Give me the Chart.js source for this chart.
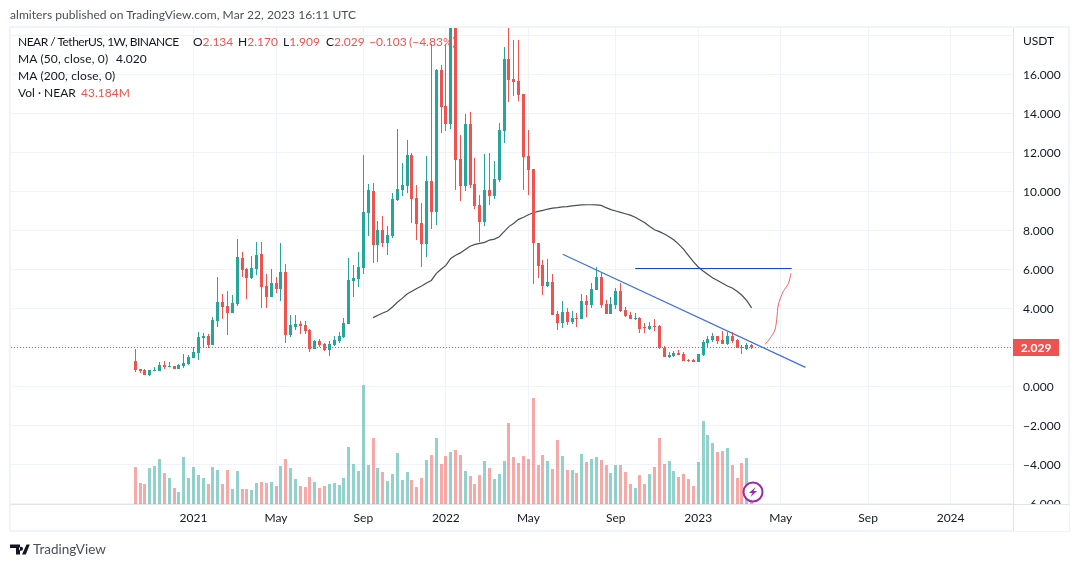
<!DOCTYPE html>
<html>
<head>
<meta charset="utf-8">
<title>NEAR / TetherUS</title>
<script src="https://cdn.jsdelivr.net/npm/chart.js@4/dist/chart.umd.min.js"></script>
<style>
  html, body { margin: 0; padding: 0; background: #fff; width: 1079px; height: 567px; overflow: hidden; }
  body { position: relative; font-family: Lato, sans-serif; font-size: 12px; color: #131722; }
  #frame { position: absolute; left: 9px; top: 26px; width: 1057px; height: 502px; border: 2px solid #f0f3fa; }
  #chart { position: absolute; left: 0; top: 0; }
  .txt { position: absolute; white-space: nowrap; line-height: 16px; }
  .up { color: #ef5350; }
</style>
</head>
<body>
<div id="frame"></div>
<canvas id="chart" width="1079" height="567"></canvas>

<div class="txt" style="left:10px;top:7px;color:#4a4e59;letter-spacing:0.06px">almiters published on TradingView.com, Mar 22, 2023 16:11 UTC</div>

<div class="txt" style="left:18px;top:34px;letter-spacing:-0.5px">NEAR / TetherUS, 1W, BINANCE</div>
<div class="txt" style="left:193px;top:34px">O<span class="up">2.134</span></div>
<div class="txt" style="left:238px;top:34px">H<span class="up">2.170</span></div>
<div class="txt" style="left:283px;top:34px">L<span class="up">1.909</span></div>
<div class="txt up" style="left:326px;top:34px"><span style="color:#131722">C</span>2.029</div>
<div class="txt up" style="left:369px;top:34px">−0.103</div>
<div class="txt up" style="left:409px;top:34px">(−4.83%)</div>
<div class="txt" style="left:18px;top:51px;letter-spacing:0.15px">MA (50, close, 0)</div>
<div class="txt" style="left:116px;top:51px">4.020</div>
<div class="txt" style="left:18px;top:68px;letter-spacing:0.15px">MA (200, close, 0)</div>
<div class="txt" style="left:18px;top:85px">Vol · NEAR</div>
<div class="txt up" style="left:81px;top:85px">43.184M</div>

<div class="txt" style="left:1023px;top:33px">USDT</div>

<!-- alert badge on the last volume bar -->
<svg style="position:absolute;left:742px;top:481px" width="22" height="22" viewBox="0 0 22 22">
  <circle cx="11" cy="11" r="9.5" fill="#fff" stroke="#9c27b0" stroke-width="2"/>
  <path d="M13.5 6 L7 12 H10.5 L8.5 16 L15 10 H11.5 Z" fill="#9c27b0"/>
</svg>

<!-- footer logo -->
<svg style="position:absolute;left:10px;top:544px" width="20" height="11" viewBox="0 0 20 11">
  <path d="M0 .5 H10 V10.5 H6 V4 H0 Z M11 2.8 a2 2 0 1 0 .01 0 Z M16.5 .5 H19.8 L15.8 10.5 H12 Z" fill="#131722"/>
</svg>
<div class="txt" style="left:33px;top:541px;font-size:13.5px;color:#4a4e59">TradingView</div>

<script>
// Weekly candles, first bar is the week of 12 Oct 2020
const opens = [
  1.30, 0.89, 0.84, 0.58, 0.78, 0.78, 1.09, 0.99, 1.04, 0.89,
  1.04, 1.14, 1.45, 1.71, 2.48, 2.58, 2.12, 3.35, 4.32, 4.12,
  3.76, 4.22, 6.58, 6.02, 5.55, 6.02, 6.78, 5.14, 4.58, 5.30,
  4.99, 5.86, 2.63, 3.04, 3.19, 3.14, 2.89, 1.91, 2.32, 2.17,
  1.86, 2.12, 2.32, 2.53, 3.19, 5.40, 5.50, 6.08, 8.90, 10.02,
  7.25, 8.02, 7.35, 7.71, 9.55, 10.07, 10.27, 11.86, 9.66, 8.37,
  7.30, 10.53, 8.94, 16.22, 14.37, 13.45, 19.00, 11.66, 10.27, 13.45,
  10.37, 9.30, 8.43, 10.07, 9.76, 10.58, 13.09, 16.79, 15.76, 15.66,
  14.99, 11.81, 11.14, 7.35, 6.22, 5.14, 5.35, 3.71, 3.25, 3.81,
  3.30, 3.50, 3.45, 4.38, 4.17, 4.94, 5.61, 4.22, 3.71, 4.17,
  4.89, 3.91, 3.66, 3.45, 3.50, 3.04, 2.94, 3.09, 3.09, 1.96,
  1.50, 1.55, 1.71, 1.66, 1.35, 1.35, 1.25, 1.61, 2.22, 2.37,
  2.58, 2.37, 2.17, 2.58, 2.37, 2.01, 1.91, 2.134
];
const highs = [
  1.91, 0.89, 0.89, 0.84, 0.99, 1.25, 1.30, 1.25, 1.04, 1.14,
  1.66, 1.61, 2.02, 2.78, 2.73, 2.68, 3.55, 5.60, 4.73, 4.89,
  4.68, 7.55, 6.89, 6.07, 6.68, 7.40, 7.40, 5.76, 6.02, 5.60,
  7.35, 6.27, 3.66, 3.66, 3.35, 3.35, 2.94, 2.37, 2.43, 2.22,
  2.32, 2.58, 2.78, 3.50, 6.58, 6.22, 6.89, 11.86, 10.37, 10.43,
  8.48, 8.73, 8.22, 9.91, 13.20, 11.45, 12.63, 11.96, 10.32, 9.40,
  11.81, 17.55, 16.27, 16.48, 17.55, 20.00, 20.40, 12.89, 13.96, 14.07,
  11.71, 9.81, 11.91, 11.96, 11.55, 13.50, 17.40, 18.40, 17.76, 17.76,
  14.99, 13.14, 11.14, 7.35, 6.48, 6.53, 5.76, 3.86, 4.38, 4.02,
  3.86, 3.76, 4.73, 4.68, 5.30, 6.12, 5.81, 4.43, 4.58, 5.04,
  5.30, 4.07, 3.81, 3.76, 3.55, 3.25, 3.30, 3.45, 3.14, 2.07,
  1.76, 1.81, 1.86, 1.76, 1.40, 1.40, 1.66, 2.37, 2.58, 2.73,
  2.58, 2.84, 2.78, 2.78, 2.43, 2.12, 2.22, 2.170
];
const lows = [
  0.73, 0.68, 0.58, 0.53, 0.78, 0.78, 0.89, 0.99, 0.89, 0.89,
  0.94, 1.09, 1.45, 1.35, 2.02, 1.96, 2.12, 3.04, 3.45, 2.63,
  3.76, 4.12, 5.60, 4.48, 5.50, 5.71, 4.02, 4.02, 4.58, 4.78,
  4.37, 2.22, 2.53, 2.89, 2.68, 2.68, 1.76, 1.91, 2.02, 1.81,
  1.55, 2.07, 2.22, 2.48, 3.19, 4.58, 5.09, 5.75, 7.71, 6.32,
  6.37, 7.14, 6.73, 7.61, 9.50, 9.76, 9.91, 8.37, 7.50, 6.12,
  6.63, 8.07, 8.27, 12.99, 13.09, 13.20, 10.07, 9.50, 10.02, 10.17,
  9.09, 7.40, 8.22, 9.30, 9.61, 10.48, 12.48, 14.58, 14.89, 14.63,
  10.07, 9.81, 5.25, 5.55, 4.68, 5.09, 3.66, 2.89, 2.99, 3.14,
  3.20, 3.04, 3.45, 3.55, 4.02, 4.94, 4.02, 3.71, 3.71, 3.96,
  3.81, 3.55, 3.45, 3.40, 2.73, 2.73, 2.89, 2.84, 1.91, 1.50,
  1.45, 1.50, 1.61, 1.30, 1.25, 1.25, 1.25, 1.55, 1.96, 2.27,
  2.17, 2.17, 2.12, 2.22, 1.96, 1.66, 1.86, 1.909
];
const closes = [
  0.85, 0.78, 0.58, 0.84, 0.84, 1.09, 0.99, 1.04, 0.89, 1.09,
  1.19, 1.50, 1.76, 2.53, 2.58, 2.12, 3.40, 4.32, 4.07, 3.76,
  4.27, 6.63, 5.96, 5.55, 6.07, 6.73, 5.09, 4.58, 5.30, 4.99,
  5.86, 2.63, 3.14, 3.19, 3.09, 2.84, 1.91, 2.32, 2.12, 1.86,
  2.17, 2.37, 2.58, 3.25, 5.45, 5.55, 6.12, 8.94, 10.07, 7.25,
  8.02, 7.35, 7.76, 9.61, 10.12, 10.32, 11.86, 9.61, 8.32, 7.30,
  10.53, 8.94, 16.22, 14.32, 13.45, 19.00, 11.61, 10.27, 13.45, 10.32,
  9.25, 8.43, 10.07, 9.76, 10.63, 13.14, 16.79, 15.71, 15.61, 14.94,
  11.76, 11.09, 7.33, 6.19, 5.14, 5.35, 3.66, 3.25, 3.81, 3.30,
  3.50, 3.47, 4.38, 4.17, 4.99, 5.61, 4.17, 3.71, 4.22, 4.89,
  3.86, 3.61, 3.45, 3.50, 2.94, 2.99, 3.09, 3.04, 1.95, 1.50,
  1.61, 1.71, 1.61, 1.30, 1.30, 1.27, 1.66, 2.27, 2.43, 2.58,
  2.32, 2.17, 2.58, 2.32, 1.96, 1.96, 2.132, 2.029
];
// Volume in millions
const volumes = [
  111, 63, 60, 108, 114, 135, 93, 78, 48, 36,
  141, 78, 111, 87, 78, 60, 111, 102, 60, 102,
  45, 99, 45, 45, 42, 63, 66, 63, 66, 54,
  114, 135, 108, 75, 54, 51, 81, 66, 48, 54,
  60, 63, 57, 78, 171, 120, 99, 357, 117, 198,
  108, 96, 69, 90, 153, 72, 96, 72, 51, 78,
  132, 147, 198, 120, 144, 156, 162, 147, 99, 84,
  60, 87, 129, 108, 75, 90, 129, 243, 141, 123,
  144, 135, 318, 117, 147, 129, 105, 192, 144, 102,
  102, 93, 150, 126, 135, 141, 132, 117, 93, 117,
  117, 96, 60, 48, 87, 60, 90, 111, 198, 120,
  129, 99, 81, 90, 75, 54, 126, 249, 207, 183,
  156, 159, 168, 117, 78, 123, 138, 43.184
];
// 50 week moving average, the first 49 weeks have none
const ma50Start = 49;
const ma50 = [
  3.52, 3.64, 3.76, 3.86, 4.07, 4.31, 4.51, 4.73, 4.87, 5.02,
  5.14, 5.30, 5.43, 5.78, 6.00, 6.20, 6.56, 6.72, 6.84, 7.02,
  7.18, 7.28, 7.33, 7.38, 7.50, 7.55, 7.67, 7.93, 8.19, 8.36,
  8.56, 8.67, 8.80, 8.90, 8.97, 9.02, 9.09, 9.14, 9.16, 9.20,
  9.21, 9.25, 9.28, 9.30, 9.31, 9.31, 9.30, 9.28, 9.16, 9.06,
  8.99, 8.92, 8.85, 8.78, 8.67, 8.53, 8.39, 8.19, 8.03, 7.93,
  7.81, 7.67, 7.50, 7.28, 7.02, 6.70, 6.39, 6.12, 5.91, 5.73,
  5.55, 5.43, 5.28, 5.14, 5.04, 4.87, 4.67, 4.39, 4.02
];

// Drawn trend lines, in week number and price
const trendWeeks = [88.07, 138.1];
const trendPrices = [6.77, 0.97];
const levelWeeks = [103, 135.26];
const levelPrices = [6.04, 6.04];
const sketchWeeks = [129.76, 130.8, 131.8, 132.2, 132.5, 133.5, 134.6, 135.1];
const sketchPrices = [2.15, 2.46, 2.89, 3.49, 4.17, 4.85, 5.28, 5.79];

// Axis ticks
const timeTicks = [12, 29, 47, 64, 81, 99, 116, 133, 151, 168];
const timeLabels = ['2021', 'May', 'Sep', '2022', 'May', 'Sep', '2023', 'May', 'Sep', '2024'];
const priceTicks = [-6, -4, -2, 0, 2, 4, 6, 8, 10, 12, 14, 16, 18];

const UP = '#26a69a';
const DOWN = '#ef5350';
const UP_VOL = 'rgba(38, 166, 154, 0.5)';
const DOWN_VOL = 'rgba(239, 83, 80, 0.5)';
const FONT = 'Lato, sans-serif';

const weeks = closes.map((c, i) => i);
const candleColors = closes.map((c, i) => (c >= opens[i] ? UP : DOWN));
const volColors = closes.map((c, i) => (c >= opens[i] ? UP_VOL : DOWN_VOL));
const lastClose = closes[closes.length - 1];
const xMin = -25.61;
const xMax = 180.86;

function pairs(xs, ys) {
  return xs.map((x, i) => ({ x: x, y: ys[i] }));
}

// Keep bars and the last price line on whole pixels so they stay crisp
const snapBars = {
  id: 'snapBars',
  afterDatasetsUpdate(chart) {
    chart.getSortedVisibleDatasetMetas().forEach((meta) => {
      if (meta.type === 'bar') {
        meta.data.forEach((bar) => {
          bar.x = Math.floor(bar.x) + 0.5;
          bar.y = Math.round(bar.y);
          bar.base = Math.round(bar.base);
          if (bar.y === bar.base) bar.y -= 1;
        });
      } else if (meta.dataset.options.borderDash.length) {
        meta.data.forEach((pt) => {
          pt.y = Math.round(pt.y) + 0.5;
        });
      }
    });
  }
};

// Price tag on the axis, and the axis corner over the clipped bottom label
const axisExtras = {
  id: 'axisExtras',
  afterDraw(chart) {
    const ctx = chart.ctx;
    const area = chart.chartArea;
    const y = Math.round(chart.scales.y.getPixelForValue(lastClose));

    ctx.save();
    ctx.fillStyle = '#fff';
    ctx.fillRect(area.right, area.bottom, 56, 27);
    ctx.fillStyle = '#e0e3eb';
    ctx.fillRect(area.right, area.bottom, 56, 1);
    ctx.fillRect(area.right, area.bottom, 1, 27);

    ctx.fillStyle = DOWN;
    ctx.fillRect(area.right, y - 8, 46, 17);
    ctx.fillStyle = '#fff';
    ctx.font = 'bold 12px ' + FONT;
    ctx.textBaseline = 'middle';
    ctx.textAlign = 'center';
    ctx.fillText(lastClose.toFixed(3), area.right + 23, y + 1);
    ctx.restore();
  }
};

new Chart(document.getElementById('chart'), {
  type: 'bar',
  data: {
    datasets: [
      // hand drawn lines
      { type: 'line', data: pairs(trendWeeks, trendPrices), borderColor: '#3d6fe6', borderWidth: 1.2, pointRadius: 0, order: 0 },
      { type: 'line', data: pairs(levelWeeks, levelPrices), borderColor: '#1448c8', borderWidth: 1, pointRadius: 0, order: 0 },
      { type: 'line', data: pairs(sketchWeeks, sketchPrices), borderColor: '#f0625f', borderWidth: 1, pointRadius: 0, tension: 0.3, order: 0 },
      // last price
      { type: 'line', data: pairs([xMin, xMax], [lastClose, lastClose]), borderColor: DOWN, borderWidth: 1, borderDash: [1, 2], pointRadius: 0, order: 1 },
      // candles
      { data: weeks.map((i) => ({ x: i, y: [opens[i], closes[i]] })), backgroundColor: candleColors, barThickness: 3, grouped: false, inflateAmount: 0, order: 2 },
      { data: weeks.map((i) => ({ x: i, y: [lows[i], highs[i]] })), backgroundColor: candleColors, barThickness: 1, grouped: false, inflateAmount: 0, order: 3 },
      // moving average
      { type: 'line', data: ma50.map((v, i) => ({ x: ma50Start + i, y: v })), borderColor: '#4a4d57', borderWidth: 1.2, pointRadius: 0, order: 4 },
      // volume
      { data: weeks.map((i) => ({ x: i, y: volumes[i] })), yAxisID: 'vol', backgroundColor: volColors, barThickness: 3, grouped: false, inflateAmount: 0, order: 5 }
    ]
  },
  options: {
    responsive: false,
    animation: false,
    events: [],
    layout: { padding: { left: 11, top: 28, right: 10, bottom: 36 } },
    plugins: { legend: { display: false }, tooltip: { enabled: false } },
    scales: {
      x: {
        type: 'linear',
        offset: false,
        min: xMin,
        max: xMax,
        afterBuildTicks(scale) {
          scale.ticks = timeTicks.map((v) => ({ value: v }));
        },
        afterFit(scale) {
          scale.height = 27;
        },
        grid: { color: '#f0f3fa', offset: false, drawTicks: false },
        border: { color: '#e0e3eb' },
        ticks: {
          color: '#131722',
          font: { family: FONT, size: 12 },
          padding: 7,
          autoSkip: false,
          maxRotation: 0,
          callback: (v) => timeLabels[timeTicks.indexOf(v)]
        }
      },
      y: {
        position: 'right',
        min: -6.036,
        max: 18.374,
        afterBuildTicks(scale) {
          scale.ticks = priceTicks.map((v) => ({ value: v }));
        },
        afterFit(scale) {
          scale.width = 56;
        },
        grid: { color: '#f0f3fa', drawTicks: false },
        border: { color: '#e0e3eb' },
        ticks: {
          color: '#131722',
          font: { family: FONT, size: 12 },
          padding: 10,
          labelOffset: 1,
          callback: (v) => (v === 18 ? '' : v.toFixed(3).replace('-', '−'))
        }
      },
      vol: {
        display: false,
        min: 0,
        max: 1428
      }
    }
  },
  plugins: [snapBars, axisExtras]
});
</script>
</body>
</html>
